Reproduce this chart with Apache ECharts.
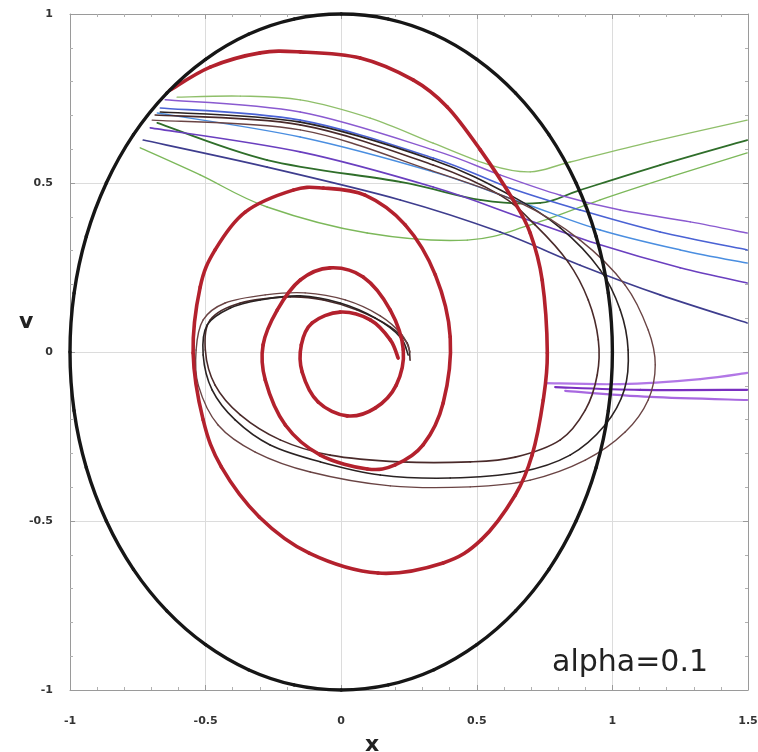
<!DOCTYPE html>
<html><head><meta charset="utf-8">
<script src="https://cdn.jsdelivr.net/npm/echarts@6/dist/echarts.min.js"></script>
<style>html,body{margin:0;padding:0;background:#fff}#c{width:758px;height:752px}</style>
</head><body><div id="c"></div>
<script>
// ---- data (x, v) ----
const xTickLabels = ['-1','-0.5','0','0.5','1','1.5'];
const yTickLabels = ['-1','-0.5','0','0.5','1'];
const annotation = 'alpha=0.1';

const boundaryCircle = [[1,0],[0.985,0.174],[0.94,0.342],[0.866,0.5],[0.766,0.643],[0.643,0.766],[0.5,0.866],[0.342,0.94],[0.174,0.985],[0,1],
  [-0.174,0.985],[-0.342,0.94],[-0.5,0.866],[-0.643,0.766],[-0.766,0.643],[-0.866,0.5],[-0.94,0.342],[-0.985,0.174],[-1,0],
  [-0.985,-0.174],[-0.94,-0.342],[-0.866,-0.5],[-0.766,-0.643],[-0.643,-0.766],[-0.5,-0.866],[-0.342,-0.94],[-0.174,-0.985],[0,-1],
  [0.174,-0.985],[0.342,-0.94],[0.5,-0.866],[0.643,-0.766],[0.766,-0.643],[0.866,-0.5],[0.94,-0.342],[0.985,-0.174],[1,0]];

const redSpiral = [[-0.631,0.775],[-0.483,0.843],[-0.299,0.885],[-0.151,0.888],[0.070,0.870],[0.265,0.805],[0.391,0.725],[0.513,0.598],[0.634,0.450],[0.697,0.352],[0.741,0.213],[0.760,-0.003],[0.745,-0.142],[0.704,-0.305],[0.642,-0.423],[0.516,-0.556],[0.376,-0.624],[0.136,-0.654],[-0.118,-0.595],[-0.302,-0.488],[-0.442,-0.340],[-0.509,-0.201],[-0.546,-0.003],[-0.520,0.192],[-0.465,0.302],[-0.354,0.414],[-0.177,0.479],[-0.066,0.485],[0.088,0.464],[0.236,0.376],[0.347,0.228],[0.402,0.044],[0.376,-0.151],[0.302,-0.275],[0.199,-0.334],[0.096,-0.346],[-0.077,-0.305],[-0.206,-0.216],[-0.280,-0.083],[-0.288,0.021],[-0.236,0.124],[-0.151,0.213],[-0.041,0.249],[0.081,0.222],[0.181,0.124],[0.229,0.006],[0.203,-0.098],[0.125,-0.166],[0.022,-0.189],[-0.085,-0.148],[-0.144,-0.059],[-0.147,0.021],[-0.107,0.086],[-0.004,0.118],[0.107,0.095],[0.181,0.036],[0.210,-0.018]];

const darkA = [[-0.686,0.701],[-0.151,0.672],[0.339,0.553],[0.586,0.464],[0.715,0.376],[0.837,0.266],[0.911,0.154],[0.948,0.036],[0.944,-0.068],[0.900,-0.172],[0.808,-0.260],[0.642,-0.311],[0.476,-0.325],[0.218,-0.325],[-0.041,-0.305],[-0.225,-0.260],[-0.372,-0.186],[-0.465,-0.098],[-0.501,0.006],[-0.483,0.095],[-0.372,0.145],[-0.188,0.163],[-0.066,0.154],[0.059,0.124],[0.181,0.074],[0.243,0.027],[0.254,-0.024]];
const darkB = [[-0.667,0.710],[-0.151,0.680],[0.339,0.568],[0.623,0.464],[0.808,0.367],[0.955,0.243],[1.029,0.124],[1.058,0.006],[1.044,-0.112],[0.973,-0.216],[0.844,-0.305],[0.660,-0.355],[0.402,-0.373],[0.144,-0.364],[-0.077,-0.325],[-0.262,-0.275],[-0.391,-0.201],[-0.476,-0.112],[-0.509,-0.009],[-0.494,0.080],[-0.409,0.130],[-0.299,0.154],[-0.151,0.166],[-0.004,0.145],[0.125,0.101],[0.218,0.044],[0.247,-0.009]];
const darkC = [[-0.697,0.686],[-0.151,0.657],[0.328,0.538],[0.660,0.441],[0.881,0.331],[1.047,0.198],[1.132,0.065],[1.158,-0.038],[1.132,-0.142],[1.047,-0.237],[0.900,-0.320],[0.697,-0.379],[0.476,-0.399],[0.181,-0.396],[-0.114,-0.355],[-0.317,-0.296],[-0.454,-0.216],[-0.527,-0.098],[-0.535,0.006],[-0.509,0.095],[-0.428,0.145],[-0.280,0.169],[-0.133,0.175],[0.015,0.154],[0.144,0.107],[0.225,0.050],[0.254,0.000]];

const green1 = [[-0.741,0.604],[-0.520,0.524],[-0.273,0.429],[0.096,0.352],[0.465,0.331],[0.697,0.376],[0.955,0.450],[1.213,0.518],[1.497,0.589]];
const green2 = [[-0.678,0.678],[-0.273,0.568],[0.218,0.503],[0.513,0.450],[0.734,0.441],[0.881,0.479],[1.176,0.553],[1.497,0.627]];
const green3 = [[-0.605,0.754],[-0.372,0.757],[-0.151,0.746],[0.107,0.692],[0.339,0.618],[0.549,0.553],[0.697,0.533],[0.844,0.562],[1.139,0.621],[1.497,0.686]];

const purple1 = [[-0.649,0.746],[-0.151,0.710],[0.339,0.598],[0.586,0.524],[0.808,0.464],[1.029,0.420],[1.287,0.385],[1.497,0.352]];
const blue2 = [[-0.667,0.722],[-0.151,0.686],[0.339,0.574],[0.623,0.485],[0.881,0.420],[1.176,0.355],[1.497,0.302]];
const blue3 = [[-0.678,0.707],[-0.151,0.636],[0.339,0.533],[0.660,0.444],[0.955,0.361],[1.250,0.302],[1.497,0.263]];
const violet4 = [[-0.704,0.663],[-0.151,0.592],[0.339,0.488],[0.660,0.399],[0.955,0.317],[1.250,0.249],[1.497,0.204]];
const indigo5 = [[-0.730,0.627],[-0.273,0.547],[0.218,0.450],[0.586,0.355],[0.881,0.257],[1.176,0.169],[1.497,0.086]];

const flat1 = [[0.752,-0.092],[1.029,-0.095],[1.324,-0.080],[1.497,-0.062]];
const flat2 = [[0.789,-0.104],[1.103,-0.112],[1.497,-0.112]];
const flat3 = [[0.826,-0.115],[1.139,-0.133],[1.497,-0.142]];

// ---- chart: each curve is a custom series; points go through api.coord, joined by Catmull-Rom splines ----
function curve(name, pts, color, width, z, closed) {
  const n = pts.length;
  return {
    name, type:'custom', data: pts, z, silent:true, clip:false,
    encode:{x:0, y:1},
    renderItem: function (params, api) {
      const i = params.dataIndex;
      if (i >= n - 1) return null;
      const get = k => {
        if (closed) { const m = n - 1; k = ((k % m) + m) % m; }
        else { k = Math.max(0, Math.min(n - 1, k)); }
        return api.coord(pts[k]);
      };
      const p0 = get(i - 1), p1 = get(i), p2 = get(i + 1), p3 = get(i + 2);
      return {
        type:'bezierCurve',
        shape:{
          x1:p1[0], y1:p1[1], x2:p2[0], y2:p2[1],
          cpx1:p1[0] + (p2[0] - p0[0]) / 6, cpy1:p1[1] + (p2[1] - p0[1]) / 6,
          cpx2:p2[0] - (p3[0] - p1[0]) / 6, cpy2:p2[1] - (p3[1] - p1[1]) / 6
        },
        style:{stroke:color, lineWidth:width, fill:null, lineCap:'round'}
      };
    }
  };
}
const series = [
  curve('green1', green1, '#7cb85a', 1.4, 2),
  curve('green2', green2, '#2f6e2a', 1.8, 2),
  curve('green3', green3, '#8fbf6a', 1.4, 2),
  curve('purple1', purple1, '#8a5ad0', 1.5, 2),
  curve('blue2', blue2, '#4a62d4', 1.6, 2),
  curve('blue3', blue3, '#4a8ee0', 1.5, 2),
  curve('violet4', violet4, '#6a3fbf', 1.6, 2),
  curve('indigo5', indigo5, '#3e3d8e', 1.6, 2),
  curve('flat1', flat1, '#b277e6', 2.2, 2),
  curve('flat2', flat2, '#7a2fc0', 2.2, 2),
  curve('flat3', flat3, '#a868e0', 2.2, 2),
  curve('darkA', darkA, '#4a2a2a', 1.6, 3),
  curve('darkB', darkB, '#2a2222', 1.6, 3),
  curve('darkC', darkC, '#6a4444', 1.4, 3),
  curve('spiral', redSpiral, '#b3212d', 3.6, 4),
  curve('circle', boundaryCircle, '#161616', 3.4, 5, true)
];

const axisCommon = {
  type:'value', interval:0.5,
  axisLine:{show:true, onZero:false, lineStyle:{color:'#9a9a9a', width:1}},
  axisTick:{show:true, inside:true, length:5, lineStyle:{color:'#9a9a9a'}},
  minorTick:{show:true, splitNumber:5, length:3, lineStyle:{color:'#b0b0b0'}},
  splitLine:{show:true, lineStyle:{color:'#dcdcdc', width:1}}
};
function fmt(labels, min){ return v => { const i = Math.round((v - min)/0.5); return labels[i] !== undefined ? labels[i] : ''; }; }

const chart = echarts.init(document.getElementById('c'), null, {renderer:'canvas'});
chart.setOption({
  animation:false,
  backgroundColor:'#ffffff',
  title:[
    {text:annotation, right:45, top:643, textStyle:{fontFamily:'DejaVu Sans', fontSize:30, fontWeight:'normal', color:'#222'}},
    {text:'v', left:14, top:306, textStyle:{fontFamily:'DejaVu Sans', fontSize:22, fontWeight:'bold', color:'#222'}}
  ],
  grid:{left:70, right:10, top:14, bottom:62, show:false, containLabel:false, outerBoundsMode:'none'},
  xAxis:[
    Object.assign({}, axisCommon, {min:-1, max:1.5, position:'bottom',
      name:'x', nameLocation:'middle', nameGap:44,
      nameTextStyle:{fontFamily:'DejaVu Sans', fontSize:22, fontWeight:'bold', color:'#222', padding:[0,74,0,0]},
      axisLabel:{margin:26, fontFamily:'DejaVu Sans', fontSize:11, fontWeight:'bold', color:'#333', formatter: fmt(xTickLabels,-1)}}),
    Object.assign({}, axisCommon, {min:-1, max:1.5, position:'top', axisLabel:{show:false}, splitLine:{show:false}})
  ],
  yAxis:[
    Object.assign({}, axisCommon, {min:-1, max:1, position:'left',
      axisLabel:{margin:17, fontFamily:'DejaVu Sans', fontSize:11, fontWeight:'bold', color:'#333', formatter: fmt(yTickLabels,-1)}}),
    Object.assign({}, axisCommon, {min:-1, max:1, position:'right', axisLabel:{show:false}, splitLine:{show:false}})
  ],
  series
});
</script></body></html>
